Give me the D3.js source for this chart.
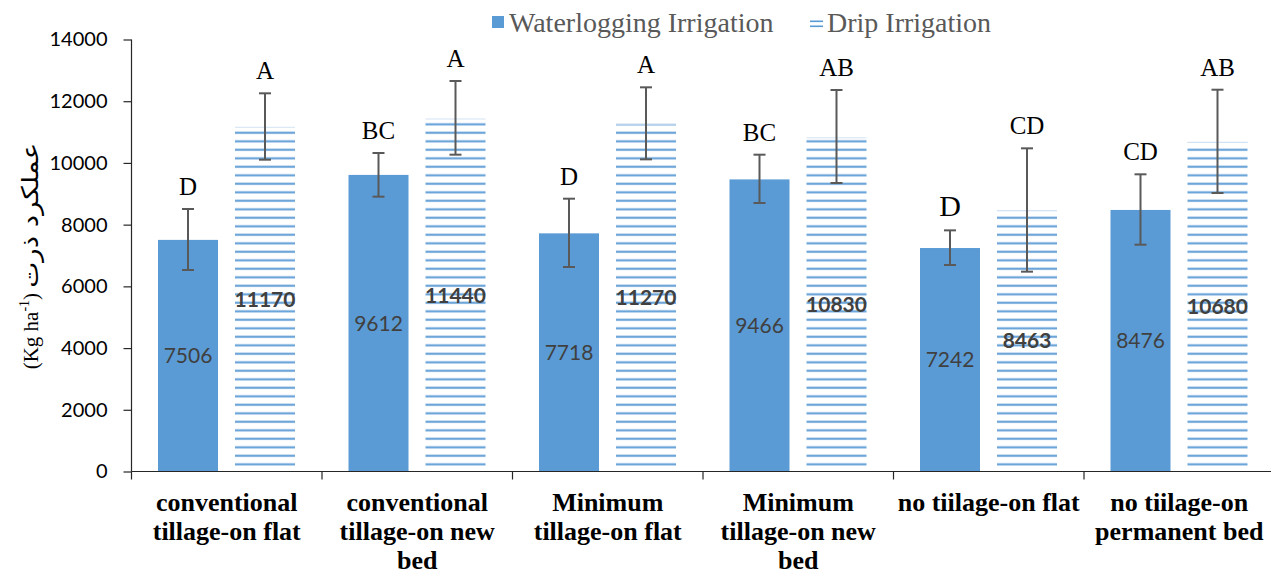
<!DOCTYPE html>
<html>
<head>
<meta charset="utf-8">
<script src="https://cdn.jsdelivr.net/npm/d3@7"></script>
<style>
  html, body { margin: 0; padding: 0; background: #fff; }
  svg { display: block; }
</style>
</head>
<body>
<svg id="chart" width="1271" height="574"></svg>
<script>
// ---------------- DATA ----------------
const categories = [
  ["conventional", "tillage-on flat"],
  ["conventional", "tillage-on new", "bed"],
  ["Minimum", "tillage-on flat"],
  ["Minimum", "tillage-on new", "bed"],
  ["no tiilage-on flat"],
  ["no tiilage-on", "permanent bed"]
];
const seriesNames = ["Waterlogging Irrigation", "Drip Irrigation"];
const waterlogging = [7506, 9612, 7718, 9466, 7242, 8476];
const drip = [11170, 11440, 11270, 10830, 8463, 10680];
const waterloggingErrLow = [6530, 8906, 6627, 8701, 6692, 7350];
const waterloggingErrHigh = [8507, 10322, 8841, 10267, 7815, 9631];
const dripErrLow = [10105, 10267, 10116, 9349, 6476, 9025];
const dripErrHigh = [12256, 12655, 12450, 12363, 10473, 12373];
const waterloggingLetters = ["D", "BC", "D", "BC", "D", "CD"];
const dripLetters = ["A", "A", "A", "AB", "CD", "AB"];
const yTicks = [0, 2000, 4000, 6000, 8000, 10000, 12000, 14000];
const yLabelLatin = "(Kg ha";
const yLabelSup = "-1";
const yLabelArabic = "عملکرد ذرت";

// ---------------- STYLE ----------------
const BLUE = "#5B9BD5";
const SERIF = "'Liberation Serif', 'Times New Roman', Tinos, serif";
const SANS = "Lato, 'Open Sans', sans-serif";
const svg = d3.select("#chart");
svg.append("rect").attr("width", 1271).attr("height", 574).attr("fill", "#fff");

const y = d3.scaleLinear().domain([0, 14000]).range([471.5, 39.5]);
const x0 = d3.scaleBand().domain(d3.range(categories.length)).range([131.5, 1274.5]);
const x1 = d3.scaleBand().domain(["w", "d"]).range([26.5, 163.5]).paddingInner(17 / 77);

// pattern for drip bars
const defs = svg.append("defs");
const pat = defs.append("pattern").attr("id", "hlines")
  .attr("patternUnits", "userSpaceOnUse").attr("width", 20).attr("height", 8.5);
pat.append("rect").attr("width", 20).attr("height", 8.5).attr("fill", "#fff");
pat.append("rect").attr("y", 4.3).attr("width", 20).attr("height", 2).attr("fill", BLUE);

const bars = [];
categories.forEach((c, i) => {
  bars.push({ i, s: "w", v: waterlogging[i], lo: waterloggingErrLow[i], hi: waterloggingErrHigh[i], letter: waterloggingLetters[i] });
  bars.push({ i, s: "d", v: drip[i], lo: dripErrLow[i], hi: dripErrHigh[i], letter: dripLetters[i] });
});
const bx = b => x0(b.i) + x1(b.s);
const bw = x1.bandwidth();

// bars
svg.append("g").selectAll("rect").data(bars).join("rect")
  .attr("x", bx)
  .attr("y", b => y(b.v))
  .attr("width", bw)
  .attr("height", b => y(0) - y(b.v))
  .attr("fill", b => b.s === "w" ? BLUE : "url(#hlines)");

// faint top edge on drip bars
svg.append("g").selectAll("line").data(bars.filter(b => b.s === "d")).join("line")
  .attr("x1", bx).attr("x2", b => bx(b) + bw)
  .attr("y1", b => y(b.v) + 0.5).attr("y2", b => y(b.v) + 0.5)
  .attr("stroke", "#d3e3f3").attr("stroke-width", 1);

// value labels
svg.append("g").selectAll("text").data(bars).join("text")
  .attr("x", b => bx(b) + bw / 2)
  .attr("y", b => (y(b.v) + y(0)) / 2)
  .attr("dy", "0.36em")
  .attr("text-anchor", "middle")
  .attr("font-family", SANS)
  .attr("font-size", 21)
  .attr("font-weight", b => b.s === "d" ? "bold" : "normal")
  .attr("fill", "#404040")
  .text(b => b.v);

// error bars
const eg = svg.append("g").attr("stroke", "#595959").attr("stroke-width", 2).attr("fill", "none");
bars.forEach(b => {
  const cx = bx(b) + bw / 2;
  eg.append("line").attr("x1", cx).attr("x2", cx).attr("y1", y(b.hi)).attr("y2", y(b.lo));
  eg.append("line").attr("x1", cx - 6).attr("x2", cx + 6).attr("y1", y(b.hi)).attr("y2", y(b.hi));
  eg.append("line").attr("x1", cx - 6).attr("x2", cx + 6).attr("y1", y(b.lo)).attr("y2", y(b.lo));
});

// significance letters
const bigLetter = { s: "w", i: 4 };
svg.append("g").selectAll("text").data(bars).join("text")
  .attr("x", b => bx(b) + bw / 2)
  .attr("y", b => y(b.hi) - 14)
  .attr("text-anchor", "middle")
  .attr("font-family", SERIF)
  .attr("font-size", b => (b.s === bigLetter.s && b.i === bigLetter.i) ? 30 : 25)
  .attr("fill", "#000")
  .text(b => b.letter);

// y axis
const yAxis = d3.axisLeft(y).tickValues(yTicks).tickSize(8).tickPadding(16).tickFormat(d => d);
const yg = svg.append("g").attr("transform", "translate(131.5,0)").call(yAxis);
yg.select(".domain").attr("stroke", "#262626").attr("stroke-width", 1.2).attr("d", `M0,${y(14000)}V${y(0)}`);
yg.selectAll(".tick line").attr("stroke", "#262626").attr("stroke-width", 1.2);
yg.selectAll(".tick text").attr("font-family", SANS)
  .attr("font-size", 20).attr("fill", "#000");

// x axis
const xg = svg.append("g").attr("stroke", "#262626").attr("stroke-width", 1.2);
xg.append("line").attr("x1", 131.5).attr("x2", 1274.5).attr("y1", y(0)).attr("y2", y(0));
const bounds = categories.map((c, i) => x0(i)).concat([x0.range()[1]]);
xg.selectAll("line.tk").data(bounds).join("line").attr("class", "tk")
  .attr("x1", d => d).attr("x2", d => d).attr("y1", y(0)).attr("y2", y(0) + 8);

const cl = svg.append("g").attr("font-family", SERIF)
  .attr("font-size", 26).attr("font-weight", "bold").attr("fill", "#000").attr("text-anchor", "middle");
categories.forEach((lines, i) => {
  const t = cl.append("text").attr("x", x0(i) + x0.bandwidth() / 2).attr("y", y(0) + 39.5);
  lines.forEach((ln, k) => {
    t.append("tspan").attr("x", x0(i) + x0.bandwidth() / 2).attr("dy", k === 0 ? 0 : 29).text(ln);
  });
});

// y label
const yl = svg.append("text").attr("transform", "translate(38,256) rotate(-90)")
  .attr("text-anchor", "middle")
  .attr("font-family", SERIF)
  .attr("font-size", 21).attr("fill", "#000");
yl.append("tspan").text(yLabelLatin);
yl.append("tspan").attr("font-size", 14).attr("dy", -9).text(yLabelSup);
yl.append("tspan").attr("dy", 9).text(")  ");
yl.append("tspan").attr("font-family", "'DejaVu Sans', sans-serif").attr("font-size", 23)
  .attr("textLength", 145).attr("lengthAdjust", "spacingAndGlyphs").text(yLabelArabic);

// legend
const lg = svg.append("g").attr("font-family", SERIF)
  .attr("font-size", 28).attr("fill", "#595959");
lg.append("rect").attr("x", 492).attr("y", 16).attr("width", 12).attr("height", 12).attr("fill", BLUE);
lg.append("text").attr("x", 509).attr("y", 32).text(seriesNames[0]);
lg.append("rect").attr("x", 810).attr("y", 20.5).attr("width", 13).attr("height", 1.6).attr("fill", BLUE);
lg.append("rect").attr("x", 810).attr("y", 25.5).attr("width", 13).attr("height", 1.6).attr("fill", BLUE);
lg.append("text").attr("x", 827).attr("y", 32).text(seriesNames[1]);
</script>
</body>
</html>
